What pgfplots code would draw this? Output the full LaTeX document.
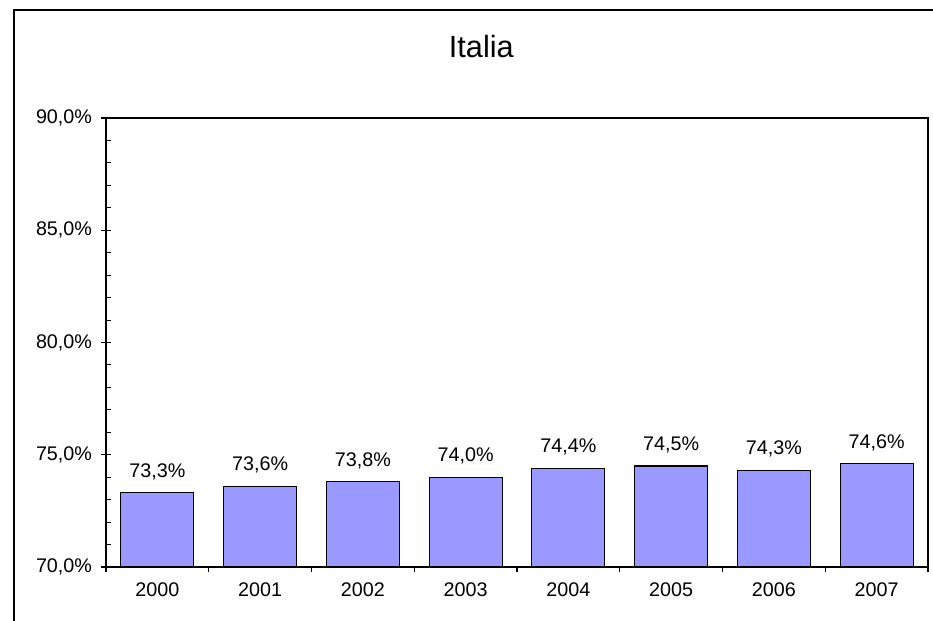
\documentclass[border=0pt]{standalone}
\usepackage{pgfplots}
\pgfplotsset{compat=1.18}
\usepackage{fontspec}
\setmainfont{Liberation Sans}
\definecolor{barblue}{HTML}{9999FF}
\begin{document}
\begin{tikzpicture}
\path[use as bounding box] (0,0) rectangle (699.75pt,465.75pt);
\draw[line width=1.6pt] (10.2pt,-20pt) -- (10.2pt,458.4pt) -- (720pt,458.4pt);
\node[font=\fontsize{23}{27}\selectfont] at (361pt,431pt) {Italia};
\begin{axis}[
  at={(79.5pt,40.5pt)}, anchor=south west,
  scale only axis, width=616.5pt, height=336.75pt,
  ymin=70, ymax=90, xmin=-0.5, xmax=7.5,
  ybar, bar width=0.71, bar shift=0pt,
  axis line style={black, line width=0.8pt},
  ytick={70,75,80,85,90},
  yticklabels={{70,0\%},{75,0\%},{80,0\%},{85,0\%},{90,0\%}},
  minor y tick num=4,
  xtick={0,...,7},
  xticklabels={2000,2001,2002,2003,2004,2005,2006,2007},
  minor xtick={-0.5,0.5,...,7.5},
  tick align=inside,
  major tick length=7.5pt, minor tick length=4pt,
  major x tick style={draw=none},
  major y tick style={xshift=-3.75pt, black, line width=0.8pt},
  minor y tick style={black, line width=0.8pt},
  minor x tick style={yshift=-4pt, black, line width=0.8pt},
  xtick pos=bottom, ytick pos=left,
  tick label style={font=\fontsize{14.8}{17}\selectfont},
  yticklabel style={xshift=-7pt},
  xticklabel style={yshift=-8pt},
  nodes near coords={\pgfmathprintnumber[fixed,fixed zerofill,precision=1,use comma]{\pgfplotspointmeta}\%},
  every node near coord/.append style={font=\fontsize{14.8}{17}\selectfont, yshift=6pt},
  /pgf/number format/assume math mode=true,
]
\addplot[fill=barblue, draw=black, line width=0.8pt] coordinates {
(0,73.3) (1,73.6) (2,73.8) (3,74.0) (4,74.4) (5,74.5) (6,74.3) (7,74.6)};
\end{axis}
\end{tikzpicture}
\end{document}
